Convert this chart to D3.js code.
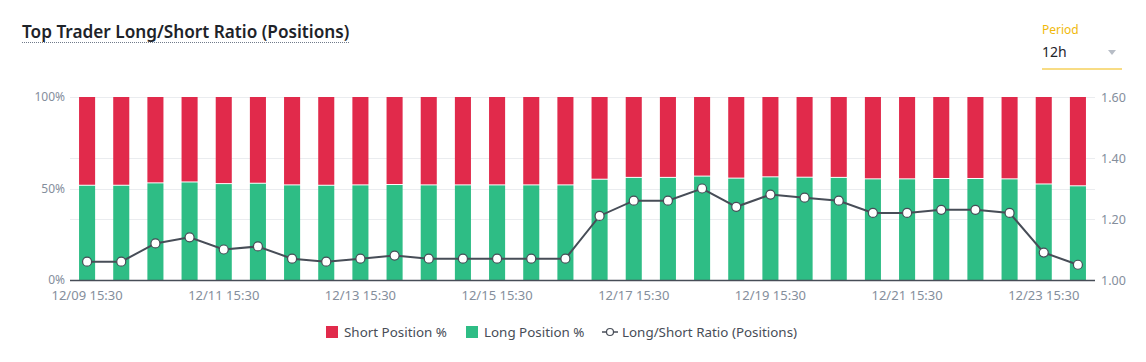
<!DOCTYPE html>
<html>
<head>
<meta charset="utf-8">
<script src="https://cdn.jsdelivr.net/npm/d3@7"></script>
<style>
  body { margin: 0; background: #fff; font-family: "Noto Sans", "Open Sans", sans-serif; }
  svg { display: block; }
</style>
</head>
<body>
<div id="chart"></div>
<script>
// times of each 12h bar
const times = [
  '12/09 15:30', '12/10 03:30', '12/10 15:30', '12/11 03:30', '12/11 15:30',
  '12/12 03:30', '12/12 15:30', '12/13 03:30', '12/13 15:30', '12/14 03:30',
  '12/14 15:30', '12/15 03:30', '12/15 15:30', '12/16 03:30', '12/16 15:30',
  '12/17 03:30', '12/17 15:30', '12/18 03:30', '12/18 15:30', '12/19 03:30',
  '12/19 15:30', '12/20 03:30', '12/20 15:30', '12/21 03:30', '12/21 15:30',
  '12/22 03:30', '12/22 15:30', '12/23 03:30', '12/23 15:30', '12/24 03:30'
];
// long position % (short = 100 - long)
const longPct = [
  51.5, 51.5, 52.8, 53.3, 52.4, 52.6, 51.7, 51.5, 51.7, 51.9,
  51.7, 51.7, 51.7, 51.7, 51.7, 54.8, 55.8, 55.8, 56.5, 55.4,
  56.1, 55.9, 55.8, 55.0, 55.0, 55.2, 55.2, 55.0, 52.2, 51.2
];
const ratio = [
  1.06, 1.06, 1.12, 1.14, 1.10, 1.11, 1.07, 1.06, 1.07, 1.08,
  1.07, 1.07, 1.07, 1.07, 1.07, 1.21, 1.26, 1.26, 1.30, 1.24,
  1.28, 1.27, 1.26, 1.22, 1.22, 1.23, 1.23, 1.22, 1.09, 1.05
];
const pctTicks = [0, 50, 100];
const ratioTicks = [1.0, 1.2, 1.4, 1.6];

const width = 1146, height = 362;
const plot = { left: 70, right: 1095, top: 97, bottom: 280 };

const red = '#e12a4b', green = '#2ebd85', lineCol = '#474d57', axisText = '#848e9c';

const data = times.map((t, i) => ({ t, long: longPct[i], short: 100 - longPct[i], ratio: ratio[i] }));

const svg = d3.select('#chart').append('svg')
  .attr('width', width).attr('height', height);

// title
svg.append('text')
  .attr('x', 22).attr('y', 38)
  .attr('font-size', 17.2).attr('font-weight', 600)
  .attr('fill', '#1e2329')
  .text('Top Trader Long/Short Ratio (Positions)');
svg.append('line')
  .attr('x1', 22).attr('x2', 349).attr('y1', 42.5).attr('y2', 42.5)
  .attr('stroke', '#707a8a').attr('stroke-dasharray', '1,1');

// period selector
svg.append('text').attr('x', 1042).attr('y', 34)
  .attr('font-size', 12).attr('fill', '#f0b90b').text('Period');
svg.append('text').attr('x', 1042).attr('y', 57)
  .attr('font-size', 14).attr('fill', '#1e2329').text('12h');
svg.append('path').attr('d', 'M1108,50 L1116,50 L1112,55 Z').attr('fill', '#b7bdc6');
svg.append('line').attr('x1', 1042).attr('x2', 1122).attr('y1', 69).attr('y2', 69)
  .attr('stroke', '#f0b90b').attr('stroke-width', 1);

// scales
const x = d3.scaleBand().domain(times).range([plot.left, plot.right]).paddingInner(0.53).paddingOuter(0.265);
const yPct = d3.scaleLinear().domain([0, 100]).range([plot.bottom, plot.top]);
const yRatio = d3.scaleLinear().domain([1.0, 1.6]).range([plot.bottom, plot.top]);

// gridlines (left axis and right axis)
const grid = svg.append('g').attr('class', 'grid');
grid.selectAll('line.gp').data(pctTicks.filter(d => d > 0)).join('line')
  .attr('x1', plot.left).attr('x2', plot.right)
  .attr('y1', d => Math.round(yPct(d)) + 0.5).attr('y2', d => Math.round(yPct(d)) + 0.5)
  .attr('stroke', '#eaecef');
grid.selectAll('line.gr').data(ratioTicks.filter(d => d > 1)).join('line')
  .attr('x1', plot.left).attr('x2', plot.right)
  .attr('y1', d => Math.round(yRatio(d)) + 0.5).attr('y2', d => Math.round(yRatio(d)) + 0.5)
  .attr('stroke', '#eaecef');

// bars
const bars = svg.append('g').attr('class', 'bars');
bars.selectAll('rect.long').data(data).join('rect')
  .attr('x', d => x(d.t)).attr('width', x.bandwidth())
  .attr('y', d => yPct(d.long)).attr('height', d => yPct(0) - yPct(d.long))
  .attr('fill', green);
bars.selectAll('rect.short').data(data).join('rect')
  .attr('x', d => x(d.t)).attr('width', x.bandwidth())
  .attr('y', d => yPct(100)).attr('height', d => yPct(d.long) - yPct(100) - 1)
  .attr('fill', red);

// axes
const leftAxis = d3.axisLeft(yPct).tickValues(pctTicks).tickFormat(d => d + '%').tickSize(0).tickPadding(5);
const gl = svg.append('g').attr('transform', `translate(${plot.left},0)`).call(leftAxis);
gl.select('.domain').remove();

const rightAxis = d3.axisRight(yRatio).tickValues(ratioTicks).tickFormat(d3.format('.2f')).tickSize(0).tickPadding(6);
const gr = svg.append('g').attr('transform', `translate(${plot.right},0)`).call(rightAxis);
gr.select('.domain').remove();

const bottomAxis = d3.axisBottom(x).tickValues(times.filter((d, i) => i % 4 === 0)).tickSize(0).tickPadding(11);
const gb = svg.append('g').attr('transform', `translate(0,${plot.bottom})`).call(bottomAxis);
gb.select('.domain').remove();

svg.selectAll('.tick text').attr('fill', axisText).attr('font-size', 12.5)
  .attr('font-family', '"Noto Sans", sans-serif');
gl.selectAll('.tick text').attr('font-size', 12);
gb.selectAll('.tick text').attr('font-size', 13);

svg.append('line').attr('x1', plot.left).attr('x2', plot.right)
  .attr('y1', plot.bottom + 0.5).attr('y2', plot.bottom + 0.5)
  .attr('stroke', lineCol).attr('stroke-width', 1.5);

// ratio line
const line = d3.line().x(d => x(d.t) + x.bandwidth() / 2).y(d => yRatio(d.ratio));
svg.append('path').datum(data).attr('d', line)
  .attr('fill', 'none').attr('stroke', lineCol).attr('stroke-width', 2);
svg.append('g').selectAll('circle').data(data).join('circle')
  .attr('cx', d => x(d.t) + x.bandwidth() / 2).attr('cy', d => yRatio(d.ratio))
  .attr('r', 4.5).attr('fill', '#fff').attr('stroke', lineCol).attr('stroke-width', 1.2);

// legend
const lg = svg.append('g').attr('font-size', 13.4).attr('fill', lineCol);
lg.append('rect').attr('x', 326).attr('y', 326).attr('width', 12).attr('height', 12).attr('fill', red);
lg.append('text').attr('x', 344).attr('y', 337).text('Short Position %');
lg.append('rect').attr('x', 466).attr('y', 326).attr('width', 12).attr('height', 12).attr('fill', green);
lg.append('text').attr('x', 484).attr('y', 337).text('Long Position %');
lg.append('line').attr('x1', 602).attr('x2', 618).attr('y1', 332).attr('y2', 332)
  .attr('stroke', lineCol).attr('stroke-width', 1.5);
lg.append('circle').attr('cx', 610).attr('cy', 332).attr('r', 3.5)
  .attr('fill', '#fff').attr('stroke', lineCol).attr('stroke-width', 1.2);
lg.append('text').attr('x', 622).attr('y', 337).text('Long/Short Ratio (Positions)');
</script>
</body>
</html>
